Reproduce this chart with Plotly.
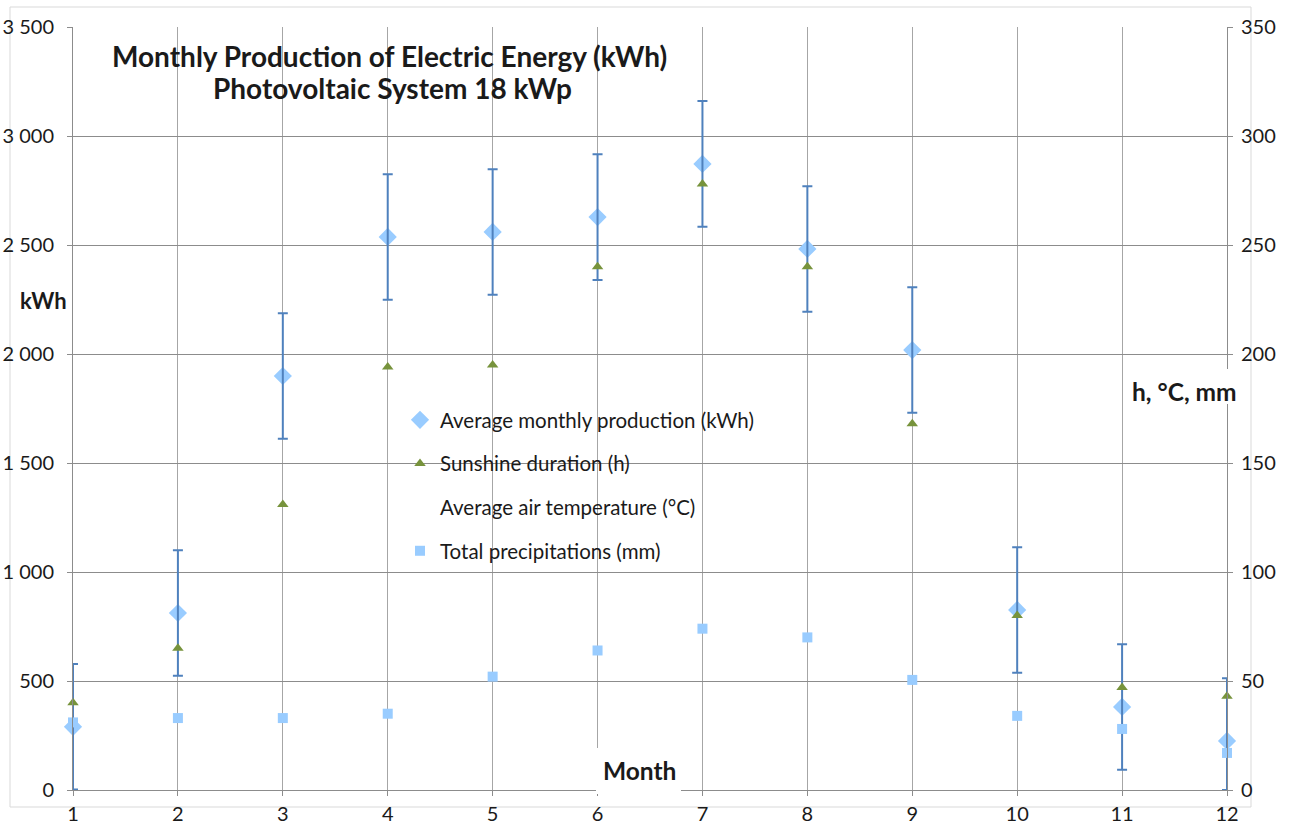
import plotly.graph_objects as go

# ---- data ----
months = [1, 2, 3, 4, 5, 6, 7, 8, 9, 10, 11, 12]
production_kwh = [290, 812, 1899, 2537, 2560, 2628, 2872, 2482, 2018, 826, 381, 225]
production_err = [288, 288, 288, 288, 288, 288, 288, 288, 288, 288, 288, 288]
sunshine_h = [40, 65, 131, 194, 195, 240, 278, 240, 168, 80, 47, 43]
air_temp_c = []  # not drawn visibly in the reference (legend entry only)
precip_mm = [31, 33, 33, 35, 52, 64, 74, 70, 50.5, 34, 28, 17]

left_ticks = [0, 500, 1000, 1500, 2000, 2500, 3000, 3500]
left_ticktext = ["0", "500", "1 000", "1 500", "2 000", "2 500", "3 000", "3 500"]
right_ticks = [0, 50, 100, 150, 200, 250, 300, 350]

FONT = "Lato"
TXT = "#1a1a1a"

# plot-area pixel geometry
W, H = 1291, 827
L, R, T, B = 73, 1227, 27, 790


def px(x):
    return (x - L) / (R - L)


def py(y):
    return (B - y) / (B - T)


err_minus = [min(e, v) for e, v in zip(production_err, production_kwh)]

fig = go.Figure()

fig.add_trace(go.Scatter(
    x=months, y=sunshine_h, yaxis="y2", mode="markers",
    name="Sunshine duration (h)", legendgroup="b", legendrank=2,
    marker=dict(symbol="triangle-up", size=10, color="#77933C"),
    cliponaxis=False,
))
fig.add_trace(go.Scatter(
    x=months, y=production_kwh, mode="markers",
    name="Average monthly production (kWh)", legendgroup="a", legendrank=1,
    marker=dict(symbol="diamond", size=14, color="#99CCFF"),
    cliponaxis=False,
))
fig.add_trace(go.Scatter(
    x=[None] if not air_temp_c else months[:len(air_temp_c)],
    y=[None] if not air_temp_c else air_temp_c,
    yaxis="y2", mode="markers",
    name="Average air temperature (°C)", legendgroup="c", legendrank=3,
    marker=dict(size=10, color="rgba(0,0,0,0)"),
    cliponaxis=False,
))
fig.add_trace(go.Scatter(
    x=months, y=precip_mm, yaxis="y2", mode="markers",
    name="Total precipitations (mm)", legendgroup="d", legendrank=4,
    marker=dict(symbol="square", size=10, color="#99CCFF"),
    cliponaxis=False,
))
# error bars drawn on top of the markers
fig.add_trace(go.Scatter(
    x=months, y=production_kwh, mode="markers",
    marker=dict(size=1, color="rgba(0,0,0,0)"),
    error_y=dict(type="data", symmetric=False, array=production_err,
                 arrayminus=err_minus, color="#4F81BD", thickness=2, width=5),
    showlegend=False, hoverinfo="skip", cliponaxis=False,
))

shapes = [
    # outer chart border
    dict(type="rect", xref="paper", yref="paper",
         x0=px(10), x1=px(1251), y0=py(807), y1=py(7),
         line=dict(color="#d9d9d9", width=1), fillcolor="rgba(0,0,0,0)", layer="below"),
    # title box
    dict(type="rect", xref="paper", yref="paper",
         x0=px(100), x1=px(680), y0=py(113), y1=py(33),
         line=dict(width=0), fillcolor="white", layer="between"),
    # legend box
    dict(type="rect", xref="paper", yref="paper",
         x0=px(328), x1=px(880), y0=py(580), y1=py(390),
         line=dict(width=0), fillcolor="white", layer="between"),
    # "Month" label box
    dict(type="rect", xref="paper", yref="paper",
         x0=px(596), x1=px(681), y0=py(794), y1=py(748),
         line=dict(width=0), fillcolor="white", layer="above"),
    # right label box
    dict(type="rect", xref="paper", yref="paper",
         x0=px(1125), x1=px(1243), y0=py(404), y1=py(369),
         line=dict(width=0), fillcolor="white", layer="above"),
]

annotations = [
    dict(text="<b>Monthly Production of Electric Energy (kWh)</b>",
         xref="paper", yref="paper", x=px(389), y=py(56), showarrow=False,
         font=dict(family=FONT, size=28, color=TXT), xanchor="center", yanchor="middle"),
    dict(text="<b>Photovoltaic System 18 kWp</b>",
         xref="paper", yref="paper", x=px(392), y=py(88), showarrow=False,
         font=dict(family=FONT, size=28, color=TXT), xanchor="center", yanchor="middle"),
    dict(text="<b>kWh</b>", xref="paper", yref="paper", x=px(43), y=py(300),
         showarrow=False, font=dict(family=FONT, size=22, color=TXT),
         xanchor="center", yanchor="middle"),
    dict(text="<b>h, °C, mm</b>", xref="paper", yref="paper", x=px(1184), y=py(391),
         showarrow=False, font=dict(family=FONT, size=24.5, color=TXT),
         xanchor="center", yanchor="middle"),
    dict(text="<b>Month</b>", xref="paper", yref="paper", x=px(639), y=py(770),
         showarrow=False, font=dict(family=FONT, size=24.5, color=TXT),
         xanchor="center", yanchor="middle"),
]

fig.update_layout(
    width=W, height=H,
    margin=dict(l=L, r=W - R, t=T, b=H - B, pad=0, autoexpand=False),
    paper_bgcolor="white", plot_bgcolor="white",
    font=dict(family=FONT, size=20, color=TXT),
    showlegend=True,
    legend=dict(x=px(400), y=py(400), xanchor="left", yanchor="top",
                bgcolor="rgba(0,0,0,0)", borderwidth=0,
                traceorder="grouped", tracegroupgap=14,
                font=dict(family=FONT, size=20.5, color=TXT)),
    xaxis=dict(range=[1, 12], tickvals=months, showgrid=True, gridcolor="#a6a6a6",
               gridwidth=1, zeroline=False, showline=True, linecolor="#8c8c8c",
               ticks="outside", ticklen=5, tickcolor="#8c8c8c", automargin=False,
               ticklabelstandoff=1, tickfont=dict(family=FONT, size=20, color=TXT)),
    yaxis=dict(range=[0, 3500], tickvals=left_ticks, ticktext=left_ticktext,
               showgrid=True, gridcolor="#8c8c8c", gridwidth=1, zeroline=False,
               showline=True, linecolor="#8c8c8c", ticks="outside", ticklen=5,
               tickcolor="#8c8c8c", ticklabelstandoff=9, automargin=False,
               tickfont=dict(family=FONT, size=20, color=TXT)),
    yaxis2=dict(range=[0, 350], tickvals=right_ticks, overlaying="y", side="right",
                showgrid=False, zeroline=False, showline=True, linecolor="#8c8c8c",
                ticks="outside", ticklen=5, tickcolor="#8c8c8c", automargin=False,
                ticklabelstandoff=4, tickfont=dict(family=FONT, size=20, color=TXT)),
    shapes=shapes, annotations=annotations,
)

fig.write_html(
    "out.html",
    config={"displayModeBar": False},
    post_script="document.body.style.margin='0';document.body.style.overflow='hidden';",
)
